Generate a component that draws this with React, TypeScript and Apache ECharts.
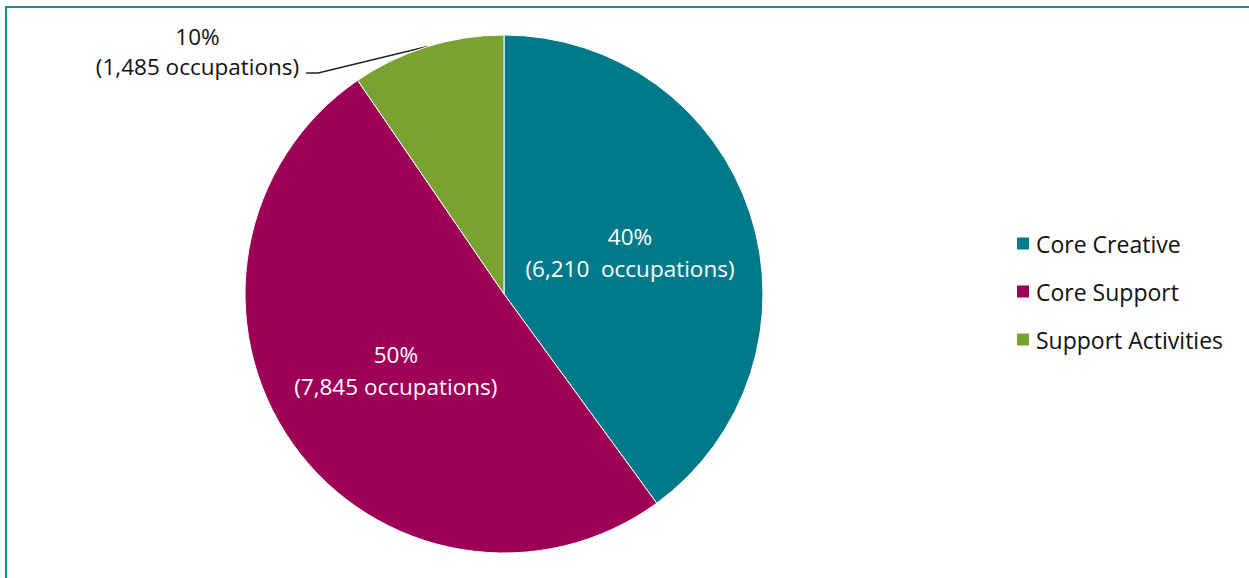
import React, { useEffect, useRef } from "react";
import * as echarts from "echarts";

const categories = ["Core Creative", "Core Support", "Support Activities"];
const occupations = [6210, 7845, 1485];
const occupationLabels = ["6,210  occupations", "7,845 occupations", "1,485 occupations"];
const percentLabels = ["40%", "50%", "10%"];
const colors = ["#007A8A", "#9E0057", "#7AA232"];

export default function App() {
  const ref = useRef<HTMLDivElement>(null);
  useEffect(() => {
    if (!ref.current) return;
    const chart = echarts.init(ref.current, null, { renderer: "svg" });
    const font = "Open Sans";
    chart.setOption({
      animation: false,
      backgroundColor: "#ffffff",
      color: colors,
      graphic: [
        {
          type: "rect",
          shape: { x: 6, y: 7, width: 1300, height: 640 },
          style: { fill: "none", stroke: "#1B8A98", lineWidth: 2 },
          silent: true,
          z: 100,
        },
      ],
      legend: {
        orient: "vertical",
        left: 1010,
        top: 227,
        itemWidth: 14,
        itemHeight: 14,
        itemGap: 25,
        icon: "rect",
        textStyle: { fontFamily: font, fontSize: 23, color: "#111", lineHeight: 20, padding: [0, 0, 0, 1] },
        data: categories,
      },
      series: [
        {
          type: "pie",
          center: [504, 294],
          radius: [0, 259],
          startAngle: 90,
          clockwise: true,
          itemStyle: { borderColor: "#ffffff", borderWidth: 1 },
          label: {
            show: true,
            position: "inside",
            fontFamily: font,
            fontSize: 22.5,
            lineHeight: 32,
            color: "#ffffff",
            align: "center",
            formatter: (p: any) => `${percentLabels[p.dataIndex]}\n(${occupationLabels[p.dataIndex]})`,
          },
          labelLine: { show: false },
          labelLayout: (p: any) =>
            p.dataIndex === 2 ? { x: 201, y: 21, align: "center", verticalAlign: "top" } : {},
          data: categories.map((c, i) =>
            i === 2
              ? {
                  name: c,
                  value: occupations[i],
                  label: {
                    position: "outside",
                    color: "#111",
                    lineHeight: 30,
                    padding: [0, 7, 44, 0],
                    backgroundColor: "transparent",
                  },
                  labelLine: { show: true, length: 10, length2: 12, lineStyle: { color: "#222", width: 1.5 } },
                }
              : { name: c, value: occupations[i] }
          ),
        },
      ],
    });
    return () => chart.dispose();
  }, []);
  return (
    <div
      ref={ref}
      style={{ position: "fixed", left: 0, top: 0, width: 1249, height: 578, background: "#fff" }}
    />
  );
}
